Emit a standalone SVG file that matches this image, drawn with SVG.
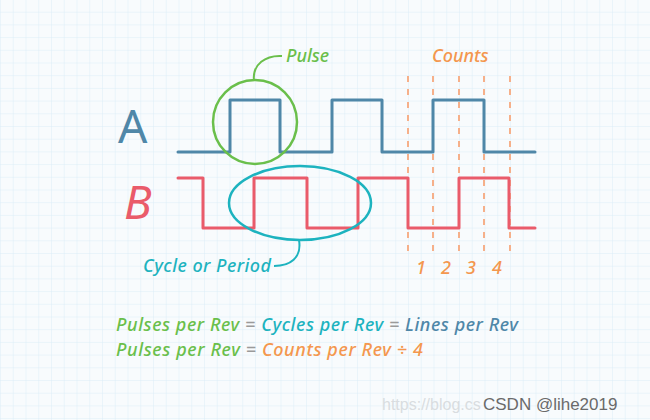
<svg xmlns="http://www.w3.org/2000/svg" width="650" height="420" viewBox="0 0 650 420">
<defs>
<pattern id="grid" x="0" y="-1" width="12.75" height="12.7" patternUnits="userSpaceOnUse">
<path d="M0 0V12.7M0 0H12.75" fill="none" stroke="#dcedf7" stroke-width="1"/>
</pattern>
<style>
.t{font-family:"Noto Sans","DejaVu Sans",sans-serif;font-style:italic;font-size:18px;font-weight:500}
.wa{fill:none;stroke:#4f87a8;stroke-width:3;stroke-linejoin:round;stroke-linecap:round}
.wb{fill:none;stroke:#ea5b6a;stroke-width:3;stroke-linejoin:round;stroke-linecap:round}
.dash{stroke:#f6b08a;stroke-width:2;stroke-dasharray:6 7}
.g{fill:#6abf4b}.c{fill:#1db3bf}.b{fill:#4f87a8}.o{fill:#f4974e}.q{fill:#9a9a9a}
</style>
</defs>
<rect width="650" height="420" fill="#f8fbfd"/>
<rect width="650" height="420" fill="url(#grid)"/>

<g id="counts-dashes">
<line class="dash" x1="408" y1="76" x2="408" y2="254"/>
<line class="dash" x1="433" y1="76" x2="433" y2="254"/>
<line class="dash" x1="459" y1="76" x2="459" y2="254"/>
<line class="dash" x1="484" y1="76" x2="484" y2="254"/>
<line class="dash" x1="510" y1="76" x2="510" y2="254"/>
</g>

<g id="signal-a">
<text x="118" y="143" font-family="Noto Sans, sans-serif" font-size="46" fill="#4f87a8">A</text>
<path class="wa" d="M178 152H230V100H280V152H332V100H382V152H433V100H484V152H535"/>
</g>
<g id="signal-b">
<text x="124" y="219" font-family="Noto Sans, sans-serif" font-size="46" font-style="italic" fill="#ea5b6a">B</text>
<path class="wb" d="M178 178H203V228H254V178H307V228H358V178H408V228H459V178H509V228H535"/>
</g>

<g id="pulse">
<circle cx="255" cy="122" r="42" fill="none" stroke="#6abf4b" stroke-width="2.5"/>
<path d="M254 81C252 64 266 55 282 56" fill="none" stroke="#6abf4b" stroke-width="2"/>
<text class="t g" x="286" y="62">Pulse</text>
</g>

<g id="cycle">
<ellipse cx="300" cy="203" rx="71" ry="37" fill="none" stroke="#1db3bf" stroke-width="2.5"/>
<path d="M299 240C302 258 290 266 274 266" fill="none" stroke="#1db3bf" stroke-width="2"/>
<text class="t c" x="143" y="272" textLength="128">Cycle or Period</text>
</g>

<g id="counts">
<text class="t o" x="432" y="62">Counts</text>
<text class="t o" x="421" y="274" text-anchor="middle">1</text>
<text class="t o" x="446" y="274" text-anchor="middle">2</text>
<text class="t o" x="471" y="274" text-anchor="middle">3</text>
<text class="t o" x="497" y="274" text-anchor="middle">4</text>
</g>

<g id="formulas">
<text class="t" x="116" y="331" textLength="402"><tspan class="g">Pulses per Rev</tspan><tspan class="q"> = </tspan><tspan class="c">Cycles per Rev</tspan><tspan class="q"> = </tspan><tspan class="b">Lines per Rev</tspan></text>
<text class="t" x="116" y="356" textLength="307"><tspan class="g">Pulses per Rev</tspan><tspan class="q"> = </tspan><tspan class="o">Counts per Rev ÷ 4</tspan></text>
</g>

<g id="watermark">
<text x="382" y="410" font-family="Liberation Sans, sans-serif" font-size="16" fill="#d9dde0">https://blog.cs</text>
<text x="483" y="410" font-family="Liberation Sans, sans-serif" font-size="17" fill="#6a6a6a">CSDN @lihe2019</text>
</g>
</svg>
